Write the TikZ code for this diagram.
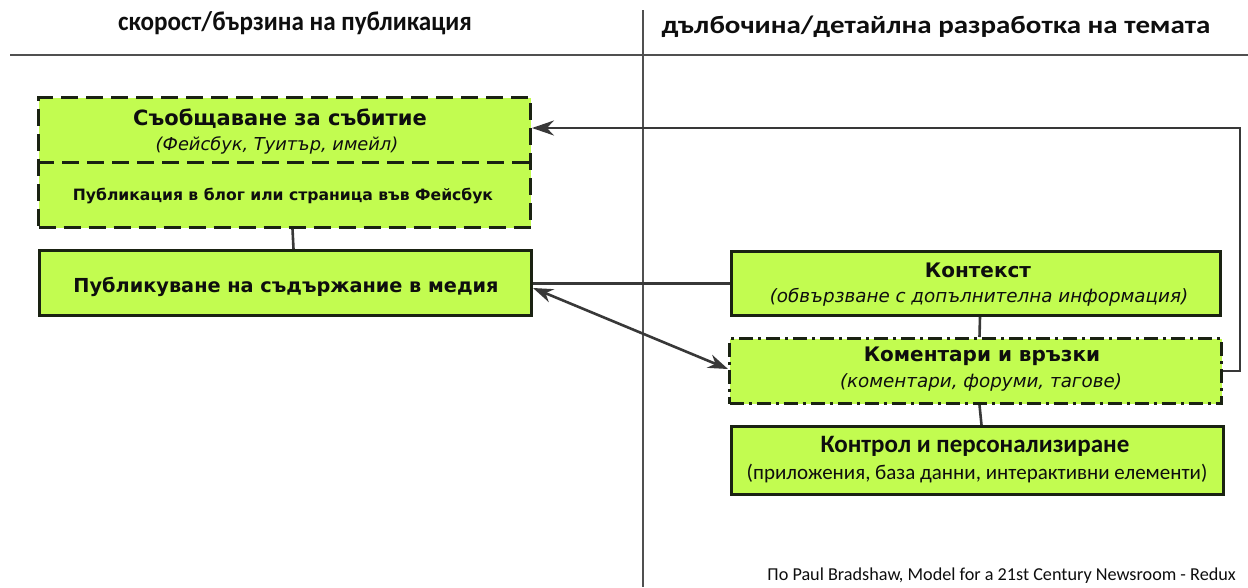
\documentclass[tikz,border=0pt]{standalone}
\usepackage{fontspec}
\setmainfont{DejaVu Sans}
\newfontfamily\verd{DejaVu Sans}
\newfontfamily\calib{Carlito}
\usetikzlibrary{arrows.meta}
\definecolor{boxfill}{RGB}{194,252,80}
\definecolor{boxedge}{RGB}{26,34,18}
\definecolor{linec}{RGB}{56,56,56}
\definecolor{rulec}{RGB}{80,80,80}
\definecolor{txt}{RGB}{14,14,14}
\begin{document}
\begin{tikzpicture}[x=1pt,y=-1pt,
  gbox/.style={draw=boxedge, fill=boxfill, line width=3pt, inner sep=0pt, anchor=north west},
  dbox/.style={gbox, dash pattern=on 17pt off 8pt},
  ddbox/.style={gbox, dash pattern=on 14pt off 5pt on 3pt off 5pt},
  conn/.style={draw=linec, line width=2.6pt},
  tip/.style={-{Stealth[length=22pt,width=15pt]}},
  rule/.style={draw=rulec, line width=2pt},
  vtitle/.style={inner sep=0pt, text=txt, font=\verd\bfseries\fontsize{21}{21}\selectfont},
  vsub/.style={inner sep=0pt, text=txt, font=\verd\itshape\fontsize{17.8}{17.8}\selectfont},
  ctitle/.style={inner sep=0pt, text=txt, font=\calib\bfseries\fontsize{25}{25}\selectfont},
  csub/.style={inner sep=0pt, text=txt, font=\calib\fontsize{21}{21}\selectfont},
  head/.style={inner sep=0pt, text=txt, font=\calib\bfseries\fontsize{27}{27}\selectfont}
]
\useasboundingbox (0,0) rectangle (1248,587);
\fill[white] (0,0) rectangle (1248,587);

% rules
\coordinate (hl) at (10,55);
\coordinate (hr) at (1248,55);
\coordinate (vt) at (643,10);
\coordinate (vb) at (643,587);
\draw[rule] (hl) -- (hr);
\draw[rule] (vt) -- (vb);

% headers
\node[head, xscale=0.93] (lhead) at (295,23) {скорост/бързина на публикация};
\node[head, font=\calib\bfseries\fontsize{25}{25}\selectfont, xscale=1.16] (rhead) at (936,27) {дълбочина/детайлна разработка на темата};

% boxes
\node[dbox, minimum width=492pt, minimum height=130pt] (social) at (37,96) {};
\coordinate (midl) at (37,162);
\coordinate (midr) at (529,162);
\draw[draw=boxedge, line width=3pt, dash pattern=on 17pt off 8pt] (midl) -- (midr);
\node[gbox, minimum width=492pt, minimum height=65pt] (media) at (38,249) {};
\node[gbox, minimum width=489pt, minimum height=64pt] (context) at (730,250) {};
\node[ddbox, minimum width=492pt, minimum height=65pt] (comments) at (728,337) {};
\node[gbox, minimum width=492pt, minimum height=68pt] (control) at (730,425) {};

% texts
\node[vtitle] (evtitle) at (280,119) {Съобщаване за събитие};
\node[vsub] (evsub) at (277,145) {(Фейсбук, Туитър, имейл)};
\node[vtitle, font=\verd\bfseries\fontsize{15.6}{15.6}\selectfont] (blog) at (283,196) {Публикация в блог или страница във Фейсбук};
\node[vtitle, font=\verd\bfseries\fontsize{19.3}{19.3}\selectfont] (mediatext) at (286,287) {Публикуване на съдържание в медия};
\node[vtitle, font=\verd\bfseries\fontsize{20}{20}\selectfont] (ctxtitle) at (978,270) {Контекст};
\node[vsub, font=\verd\itshape\fontsize{18.3}{18.3}\selectfont] (ctxsub) at (979,297) {(обвързване с допълнителна информация)};
\node[vtitle, font=\verd\bfseries\fontsize{20}{20}\selectfont] (comtitle) at (982,356) {Коментари и връзки};
\node[vsub, font=\verd\itshape\fontsize{18.3}{18.3}\selectfont] (comsub) at (981,382) {(коментари, форуми, тагове)};
\node[ctitle] (ctrltitle) at (975,446) {Контрол и персонализиране};
\node[csub] (ctrlsub) at (977,474) {(приложения, база данни, интерактивни елементи)};

\node[inner sep=0pt, text=txt, font=\calib\fontsize{18.2}{18.2}\selectfont, anchor=east] (footer) at (1236,576) {По Paul Bradshaw, Model for a 21st Century Newsroom - Redux};

% connectors
\draw[conn] ([xshift=8pt]social.south) -- ([xshift=8pt]media.north);
\draw[conn] ([xshift=4pt]context.south) -- ([xshift=4pt]comments.north);
\draw[conn] ([xshift=4pt]comments.south) -- ([xshift=4pt]control.north);
\draw[conn] (context.west) -- (media.east |- context.west);
\draw[conn, {Stealth[length=20pt,width=14pt]}-{Stealth[length=20pt,width=14pt]}] ([yshift=-5pt]media.east) -- ([yshift=2pt]comments.west);
\draw[conn, tip] (comments.east) -- ++(17,0) |- ([yshift=-32pt]social.north east);
\end{tikzpicture}
\end{document}
